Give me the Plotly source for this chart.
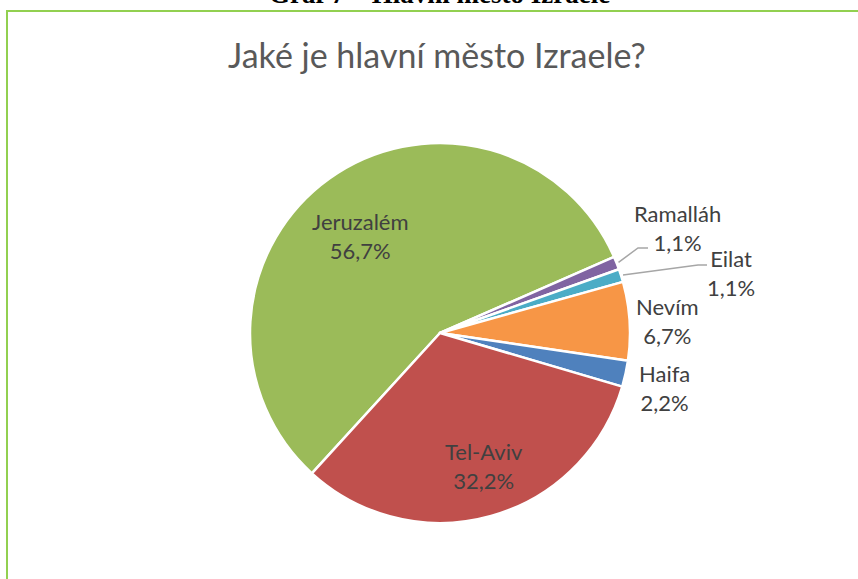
import math
import plotly.graph_objects as go

# ---- data ----
categories = ["Jeruzalém", "Ramalláh", "Eilat", "Nevím", "Haifa", "Tel-Aviv"]
counts = [51, 1, 1, 6, 2, 29]
colors = ["#9BBB59", "#8064A2", "#4BACC6", "#F79646", "#4F81BD", "#C0504D"]
title_text = "Jaké je hlavní město Izraele?"
caption_text = "Graf 7 – Hlavní město Izraele"

W, H = 858, 579
total = sum(counts)
pct_text = [f"{c / total * 100:.1f}".replace(".", ",") + "%" for c in counts]

# pie geometry (pixels)
CX, CY, R = 440, 333, 190
ROT = 222.4


def px(x):
    return x / W


def py(y):
    return 1 - y / H


fig = go.Figure(go.Pie(
    labels=categories,
    values=counts,
    sort=False,
    direction="clockwise",
    rotation=ROT,
    marker=dict(colors=colors, line=dict(color="white", width=2.5)),
    textinfo="none",
    hoverinfo="label+percent",
    showlegend=False,
    domain=dict(x=[px(CX - R), px(CX + R)], y=[py(CY + R), py(CY - R)]),
))

# label positions (pixel centres)
label_pos = {
    "Jeruzalém": (360, 236),
    "Ramalláh": (677, 228),
    "Eilat": (731, 273),
    "Nevím": (667, 321),
    "Haifa": (664, 388),
    "Tel-Aviv": (484, 466),
}

annotations = []
for cat, p in zip(categories, pct_text):
    x, y = label_pos[cat]
    annotations.append(dict(
        text=f"{cat}<br>{p}", x=px(x), y=py(y), xref="paper", yref="paper",
        xanchor="center", yanchor="middle", showarrow=False,
        font=dict(family="Lato", size=22, color="#404040"),
    ))

annotations.append(dict(
    text=title_text, x=px(437), y=py(55), xref="paper", yref="paper",
    xanchor="center", yanchor="middle", showarrow=False,
    font=dict(family="Lato", size=34, color="#595959"),
))
annotations.append(dict(
    text=f"<b>{caption_text}</b>", x=px(440), y=py(11), xref="paper", yref="paper",
    xanchor="center", yanchor="bottom", showarrow=False,
    font=dict(family="Liberation Serif", size=27, color="#000000"),
))

# leader lines for small slices, starting at the slice edge
cum = 0
mid_angle = {}
for cat, c in zip(categories, counts):
    mid_angle[cat] = ROT + (cum + c / 2) / total * 360
    cum += c

elbows = {
    "Ramalláh": [(638, 248), (648, 248)],
    "Eilat": [(698, 265), (707, 265)],
}
shapes = []
for cat, pts in elbows.items():
    a = math.radians(mid_angle[cat])
    sx = CX + (R + 2) * math.sin(a)
    sy = CY - (R + 2) * math.cos(a)
    path = f"M {px(sx)},{py(sy)}" + "".join(f" L {px(x)},{py(y)}" for x, y in pts)
    shapes.append(dict(type="path", path=path, xref="paper", yref="paper",
                       line=dict(color="#A6A6A6", width=1.5)))

# green frame
shapes.append(dict(type="rect", xref="paper", yref="paper",
                   x0=px(7), x1=1.05, y0=-0.05, y1=py(11),
                   line=dict(color="#92D050", width=2)))

fig.update_layout(
    width=W, height=H,
    margin=dict(l=0, r=0, t=0, b=0),
    paper_bgcolor="white", plot_bgcolor="white",
    annotations=annotations, shapes=shapes,
)

fig.write_html("out.html", config={"displayModeBar": False},
               post_script="document.body.style.margin='0';")
